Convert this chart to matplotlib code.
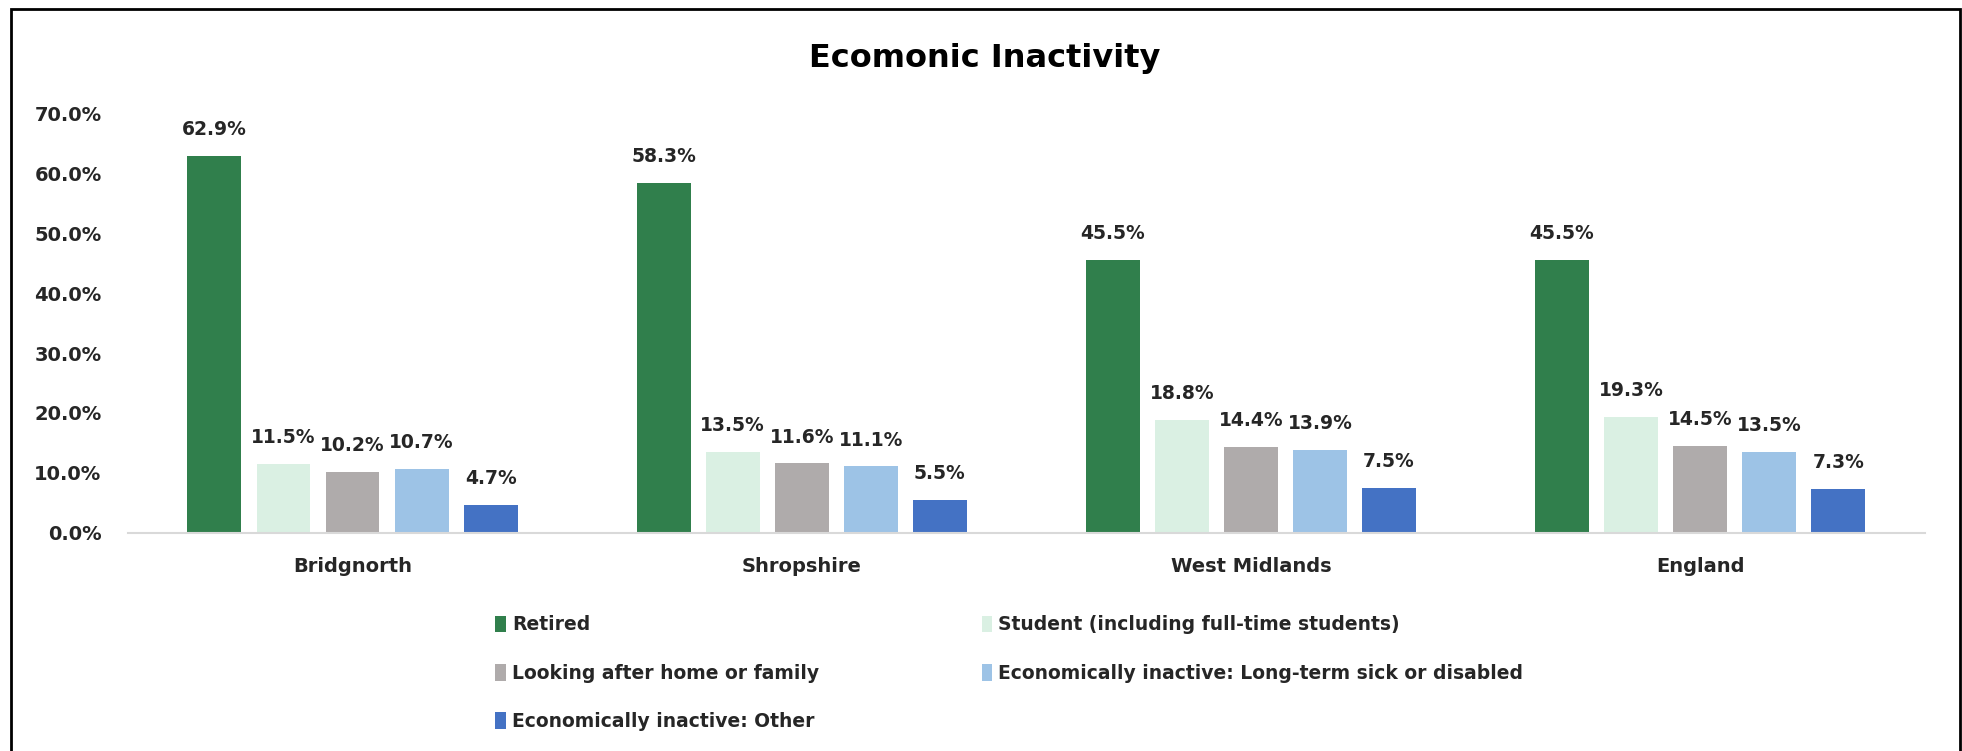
import numpy as np
import matplotlib.pyplot as plt
from matplotlib.patches import Rectangle
from matplotlib.ticker import PercentFormatter

# data (percent of economically inactive)
areas = ["Bridgnorth", "Shropshire", "West Midlands", "England"]
series = [
    "Retired",
    "Student (including full-time students)",
    "Looking after home or family",
    "Economically inactive: Long-term sick or disabled",
    "Economically inactive: Other",
]
retired = [62.9, 58.3, 45.5, 45.5]
student = [11.5, 13.5, 18.8, 19.3]
home_family = [10.2, 11.6, 14.4, 14.5]
long_term_sick = [10.7, 11.1, 13.9, 13.5]
other = [4.7, 5.5, 7.5, 7.3]

colors = ["#307F4C", "#DAF0E3", "#AFABAB", "#9DC3E6", "#4472C4"]

plt.rcParams["font.family"] = "DejaVu Sans"
plt.rcParams["font.weight"] = "bold"

fig = plt.figure(figsize=(19.62, 7.51), dpi=100)
ax = fig.add_axes([0.0652, 0.2903, 0.9158, 0.5592])

x = np.arange(len(areas))
step = 0.1537
width = 0.12
values = [retired, student, home_family, long_term_sick, other]
handles = []
for i, vals in enumerate(values):
    pos = x + (i - 2) * step
    bars = ax.bar(pos, vals, width=width, color=colors[i], label=series[i])
    handles.append(bars)
    for xp, v in zip(pos, vals):
        ax.annotate("%.1f%%" % v, (xp, v), xytext=(0, 19), textcoords="offset points",
                    ha="center", va="center", fontsize=13.5, fontweight="bold", color="#262626")

ax.set_xlim(-0.5, len(areas) - 0.5)
ax.set_ylim(0, 70)
ax.set_yticks(np.arange(0, 71, 10))
ax.yaxis.set_major_formatter(PercentFormatter(decimals=1))
ax.set_xticks(x)
ax.set_xticklabels(areas)
ax.tick_params(axis="x", length=0, pad=17, labelsize=14, labelcolor="#262626")
ax.tick_params(axis="y", length=0, pad=19, labelsize=14, labelcolor="#262626")
for lbl in ax.get_xticklabels() + ax.get_yticklabels():
    lbl.set_fontweight("bold")

for s in ["top", "right", "left"]:
    ax.spines[s].set_visible(False)
ax.spines["bottom"].set_color("#D9D9D9")
ax.spines["bottom"].set_linewidth(1.5)

fig.text(0.502, 0.922, "Ecomonic Inactivity", ha="center", va="center",
         fontsize=23, fontweight="bold", color="black")

# legend laid out row by row: ncol=2 fills column-first
order = [0, 2, 4, 1, 3]
leg = fig.legend([handles[i] for i in order], [series[i] for i in order],
                 ncol=2, loc="upper left", bbox_to_anchor=(0.2525, 0.1805),
                 frameon=False, fontsize=13.5, handlelength=0.55, handleheight=1.0,
                 handletextpad=0.35, labelspacing=1.56, columnspacing=8.65,
                 borderpad=0, borderaxespad=0)
for t in leg.get_texts():
    t.set_color("#262626")

# outer frame of the picture
fig.patches.append(Rectangle((0.0056, -0.02), 0.9934, 1.008, transform=fig.transFigure,
                             fill=False, edgecolor="black", linewidth=2))

fig.savefig("out.png", dpi=100)
